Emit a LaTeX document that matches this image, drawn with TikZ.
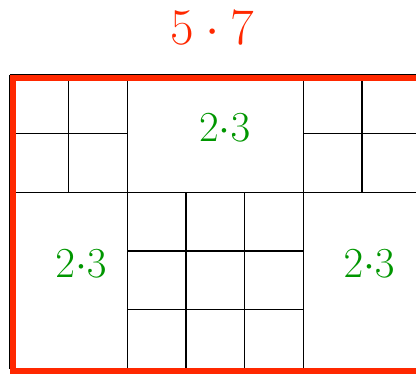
\documentclass[tikz,border=0pt]{standalone}
\usepackage{tikz}
\usetikzlibrary{positioning}
\definecolor{rectred}{RGB}{255,40,0}
\definecolor{prodgreen}{RGB}{0,150,0}

\begin{document}
\begin{tikzpicture}[every node/.style={font=\fontsize{20.6}{24}\selectfont},
    prodlabel/.style={prodgreen}, cellline/.style={black, line width=0.7pt}]
    \useasboundingbox (-0.17,-0.097) rectangle (6.92,6.277);
    % small unit squares
    \draw[cellline] (0,3) grid (2,5);
    \draw[cellline] (5,3) grid (7,5);
    \draw[cellline] (2,0) grid (5,3);
    % the three 2x3 blocks
    \foreach \a/\b in {{(2,3)}/{(5,5)},{(0,0)}/{(2,3)},{(5,0)}/{(7,3)}}{
      \draw[cellline] \a rectangle \b;}
    \node[prodlabel] (topblock) at (3.66,4.10) {$2{\cdot}3$};
    \node[prodlabel] (leftblock) at (1.21,1.79) {$2{\cdot}3$};
    \node[prodlabel] (rightblock) at (6.12,1.79) {$2{\cdot}3$};
    % the whole 5 x 7 rectangle
    \draw[rectred, line width=2.9pt] (0.05,-0.05) rectangle (7.05,4.95);
    \node[rectred, font=\fontsize{27.5}{32}\selectfont] (title) at (3.45,5.805) {$5\cdot7$};
\end{tikzpicture}
\end{document}
